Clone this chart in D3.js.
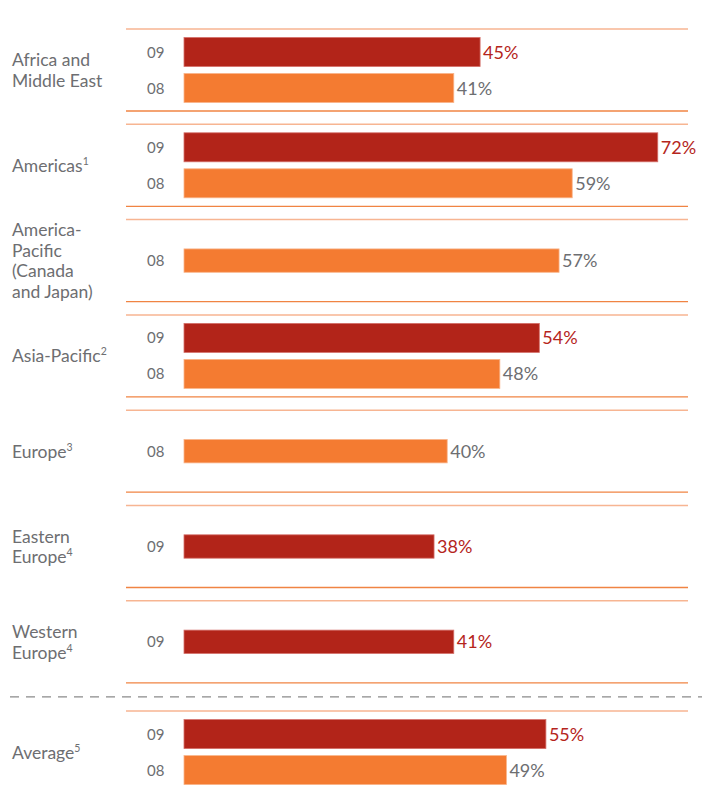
<!DOCTYPE html>
<html>
<head>
<meta charset="utf-8">
<script src="https://cdn.jsdelivr.net/npm/d3@7"></script>
<style>
  body { margin: 0; background: #fff; }
  svg text { font-family: Lato, "Open Sans", sans-serif; }
</style>
</head>
<body>
<svg class="chart-svg"></svg>
<script>
// chart data
var regions = ["Africa and Middle East", "Americas", "America-Pacific (Canada and Japan)",
  "Asia-Pacific", "Europe", "Eastern Europe", "Western Europe", "Average"]
var labelLines = [["Africa and", "Middle East"], ["Americas"], ["America-", "Pacific", "(Canada", "and Japan)"],
  ["Asia-Pacific"], ["Europe"], ["Eastern", "Europe"], ["Western", "Europe"], ["Average"]]
var notes = ["", "1", "", "2", "3", "4", "4", "5"]
var years = ["09", "08"]
var values09 = [45, 72, null, 54, null, 38, 41, 55]
var values08 = [41, 59, 57, 48, 40, null, null, 49]

var width = 710, height = 792
var groupH = 82
var barH = 29, barGap = 7
var avgExtra = 15

var svg = d3.select(".chart-svg").attr("width", width).attr("height", height)

var xScale = d3.scaleLinear().domain([0, 100]).range([184, 842])
var yGroup = d3.scaleLinear().domain([0, 7]).range([29, 29 + 7 * 95.3])
var colors = { "09": "#b22419", "08": "#f47b31" }
var strokes = { "09": "#d4706a", "08": "#f9b48a" }
var textColors = { "09": "#b5251c", "08": "#6d6e71" }
var grey = "#6d6e71"

function groupTop (i) {
  return yGroup(i) + (i === 7 ? avgExtra : 0)
}

regions.forEach(function (name, i) {
  var top = groupTop(i)
  var mid = top + groupH / 2
  var g = svg.append("g").attr("class", "group")

  // rules
  g.append("line")
    .attr("x1", 126).attr("x2", 688)
    .attr("y1", top).attr("y2", top)
    .style("stroke", "#f7b592").style("stroke-width", 1.5)
  g.append("line")
    .attr("x1", 126).attr("x2", 688)
    .attr("y1", top + groupH).attr("y2", top + groupH)
    .style("stroke", "#f08443").style("stroke-width", 1.3)

  // region label, one text per line
  var lines = labelLines[i]
  var lh = 20.5
  var firstBase = mid + 6.5 - (lines.length - 1) * lh / 2
  lines.forEach(function (t, k) {
    var label = g.append("text")
      .attr("x", 12)
      .attr("y", firstBase + k * lh)
      .style("font-size", "17.5px")
      .style("fill", grey)
      .text(t)
    if (k === lines.length - 1 && notes[i]) {
      label.append("tspan").attr("dy", -7).style("font-size", "10.5px").text(notes[i])
    }
  })

  // bars
  var rows = []
  if (values09[i] != null) rows.push({ year: "09", value: values09[i] })
  if (values08[i] != null) rows.push({ year: "08", value: values08[i] })
  var span = rows.length * (barH + barGap) - barGap
  var yInner = d3.scaleBand()
    .domain(rows.map(function (d) { return d.year }))
    .range([mid - span / 2, mid + span / 2])
    .paddingInner(barGap / (barH + barGap))

  rows.forEach(function (d) {
    var y = yInner(d.year)
    g.append("rect")
      .attr("x", xScale(0))
      .attr("y", y)
      .attr("width", xScale(d.value) - xScale(0))
      .attr("height", yInner.bandwidth())
      .style("fill", colors[d.year])
      .style("stroke", strokes[d.year])
      .style("stroke-width", 0.8)
    g.append("text")
      .attr("x", 147)
      .attr("y", y + yInner.bandwidth() / 2 + 5.5)
      .style("font-size", "15px")
      .style("fill", grey)
      .text(d.year)
    g.append("text")
      .attr("x", xScale(d.value) + 3)
      .attr("y", y + yInner.bandwidth() / 2 + 6.5)
      .style("font-size", "18px")
      .style("fill", textColors[d.year])
      .text(d.value + "%")
  })
})

// dashed separator before the average
var sepY = (groupTop(6) + groupH + groupTop(7)) / 2
svg.append("line")
  .attr("x1", 10).attr("x2", 702)
  .attr("y1", sepY).attr("y2", sepY)
  .style("stroke", "#8a8a8a").style("stroke-width", 1.3)
  .attr("stroke-dasharray", "9,7")
</script>
</body>
</html>
